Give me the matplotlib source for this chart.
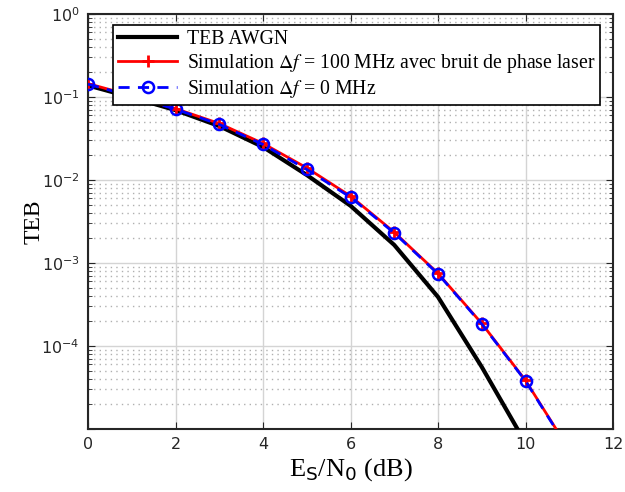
import matplotlib
matplotlib.use("Agg")
import matplotlib.pyplot as plt
from matplotlib.ticker import LogLocator, NullFormatter, NullLocator

# Es/N0 points (dB)
snr_db = [0, 1, 2, 3, 4, 5, 6, 7, 8, 9, 10, 11]

# theoretical curve, AWGN
teb_awgn = [0.138, 0.099, 0.0695, 0.0447, 0.025, 0.0115, 0.0049, 0.00165,
            3.9e-4, 5.6e-5, 6.8e-6]

# simulations
teb_laser = [0.145, 0.104, 0.0725, 0.048, 0.0276, 0.0140, 0.0064, 0.00235,
             7.5e-4, 1.87e-4, 3.85e-5, 5.6e-6]
teb_zero = [0.143, 0.102, 0.0715, 0.0468, 0.0268, 0.0134, 0.0062, 0.00230,
            7.4e-4, 1.84e-4, 3.8e-5, 5.5e-6]

y_ticks = [1e-5, 1e-4, 1e-3, 1e-2, 1e-1, 1]
y_tick_labels = ["", r"$10^{-4}$", r"$10^{-3}$", r"$10^{-2}$", r"$10^{-1}$", r"$10^{0}$"]

lbl_awgn = "TEB AWGN"
lbl_laser = r"Simulation $\Delta f$ = 100 MHz avec bruit de phase laser"
lbl_zero = r"Simulation $\Delta f$ = 0 MHz"

plt.rcParams["font.family"] = "DejaVu Sans"
plt.rcParams["mathtext.fontset"] = "dejavusans"

fig = plt.figure(figsize=(6.25, 4.92), dpi=100)
ax = fig.add_axes([0.1408, 0.128, 0.84, 0.8435])

ax.semilogy(snr_db[:len(teb_awgn)], teb_awgn, color="black", lw=3, label=lbl_awgn, zorder=3)
ax.semilogy(snr_db, teb_laser, color="red", lw=2, marker="+", ms=9, mew=2,
            label=lbl_laser, zorder=4)
ax.semilogy(snr_db, teb_zero, color="blue", lw=2, ls=(0, (4, 3)), marker="o", ms=8,
            mew=1.8, mfc="none", label=lbl_zero, zorder=5)

ax.set_xlim(0, 12)
ax.set_ylim(1e-5, 1)
ax.set_xticks([0, 2, 4, 6, 8, 10, 12])
ax.xaxis.set_minor_locator(NullLocator())
ax.set_yticks(y_ticks, labels=y_tick_labels)
ax.yaxis.set_minor_locator(LogLocator(base=10, subs=range(2, 10), numticks=10))
ax.yaxis.set_minor_formatter(NullFormatter())

ax.grid(True, which="major", color="#d4d4d4", lw=1.0, ls="-")
ax.grid(True, which="minor", axis="y", color="#b0b0b0", lw=1.0, ls=(0, (1, 3)))
ax.set_axisbelow(True)

ax.tick_params(which="both", direction="in", top=True, right=True,
               labelsize=11.5, labelcolor="#262626", color="#262626")
ax.tick_params(which="major", length=5, pad=6)
ax.tick_params(which="minor", length=3)
for sp in ax.spines.values():
    sp.set_linewidth(1.5)
    sp.set_color("#262626")

ax.set_ylabel("TEB", family="Liberation Serif", fontsize=17, labelpad=-2)
ax.set_xlabel(r"E$_{\rm S}$/N$_{0}$ (dB)", family="Liberation Serif", fontsize=19,
              labelpad=3)

leg = ax.legend(loc="upper left", bbox_to_anchor=(0.0476, 0.9735), borderaxespad=0,
                fancybox=False, framealpha=1, edgecolor="black",
                prop={"family": "Liberation Serif", "size": 14.2},
                handlelength=3.0, labelspacing=0.15, borderpad=0.25, handletextpad=0.5)
leg.get_frame().set_linewidth(1.2)
for t in leg.get_texts():
    t.set_math_fontfamily("stix")
leg.set_zorder(10)

fig.savefig("out.png", dpi=100)
